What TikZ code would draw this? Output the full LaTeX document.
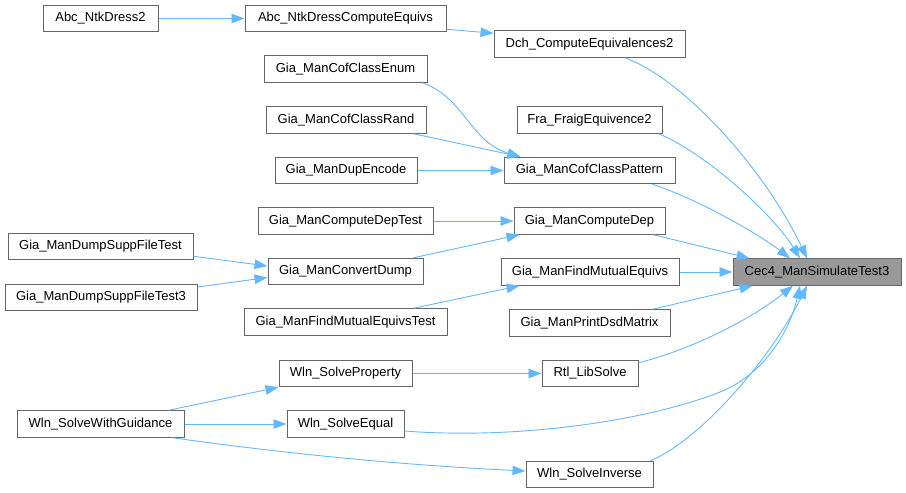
\documentclass[tikz,border=0pt]{standalone}
\usepackage{fontspec}
\setmainfont{Liberation Sans}
\usetikzlibrary{arrows.meta,calc}
\definecolor{edgeblue}{HTML}{63B8FF}
\definecolor{boxborder}{HTML}{666666}
\definecolor{rootfill}{HTML}{999999}
\begin{document}
\begin{tikzpicture}[x=1pt,y=-1pt,
  fn/.style={draw=boxborder,line width=1pt,fill=white,inner sep=0pt,minimum height=26.5pt,font=\fontsize{13}{15}\selectfont},
  root/.style={fn,fill=rootfill},
  call/.style={draw=edgeblue,line width=0.9pt,-{Triangle[length=13pt,width=9.5pt]}}]
\useasboundingbox (0,0) rectangle (906,493);
% nodes
\node[fn,minimum width=115] (dress2) at (100.5,18.5) {Abc\_NtkDress2};
\node[fn,minimum width=201] (dressce) at (345.5,18.5) {Abc\_NtkDressComputeEquivs};
\node[fn,minimum width=191] (dch) at (589.5,44) {Dch\_ComputeEquivalences2};
\node[fn,minimum width=163] (enum) at (345.5,69) {Gia\_ManCofClassEnum};
\node[fn,minimum width=160] (rand) at (346,120) {Gia\_ManCofClassRand};
\node[fn,minimum width=145] (fra) at (589.5,120) {Fra\_FraigEquivence2};
\node[fn,minimum width=142] (dupenc) at (346,170.5) {Gia\_ManDupEncode};
\node[fn,minimum width=171] (pattern) at (589.5,170.5) {Gia\_ManCofClassPattern};
\node[fn,minimum width=175] (deptest) at (345.5,221) {Gia\_ManComputeDepTest};
\node[fn,minimum width=151] (dep) at (589.5,221) {Gia\_ManComputeDep};
\node[fn,minimum width=185] (dumpA) at (100.5,246.5) {Gia\_ManDumpSuppFileTest};
\node[fn,minimum width=155] (convert) at (345.5,271.5) {Gia\_ManConvertDump};
\node[fn,minimum width=178] (mutual) at (590,272) {Gia\_ManFindMutualEquivs};
\node[root,minimum width=168] (cec) at (817,272) {Cec4\_ManSimulateTest3};
\node[fn,minimum width=192] (dumpB) at (101,297.5) {Gia\_ManDumpSuppFileTest3};
\node[fn,minimum width=203] (muttest) at (345.5,322) {Gia\_ManFindMutualEquivsTest};
\node[fn,minimum width=161] (dsd) at (589.5,323) {Gia\_ManPrintDsdMatrix};
\node[fn,minimum width=133] (prop) at (345.5,373.5) {Wln\_SolveProperty};
\node[fn,minimum width=96] (rtl) at (590,373.5) {Rtl\_LibSolve};
\node[fn,minimum width=167] (guid) at (100.5,424) {Wln\_SolveWithGuidance};
\node[fn,minimum width=117] (equal) at (345.5,424) {Wln\_SolveEqual};
\node[fn,minimum width=127] (inverse) at (589.5,474.5) {Wln\_SolveInverse};
% edges
\draw[call] (dress2.east) -- (dressce.west);
\draw[call] ($(dressce.south east)+(0,-3)$) -- ($(dch.north west)+(0,3)$);
\draw[call] ($(dch.south)+(35.5,0)$) .. controls (685,80) and (765,170) .. ($(cec.north)+(-10,0)$);
\draw[call] ($(enum.south east)+(-5,0)$) .. controls (465,98) and (470,142) .. ($(pattern.north west)+(17,0)$);
\draw[call] ($(rand.south east)+(-13,0)$) -- ($(pattern.north west)+(17,0)$);
\draw[call] (dupenc.east) -- (pattern.west);
\draw[call] ($(fra.south east)+(-4,0)$) .. controls (700,150) and (770,210) .. ($(cec.north)+(-17,0)$);
\draw[call] ($(pattern.south east)+(-23,0)$) .. controls (700,200) and (760,235) .. ($(cec.north)+(-27,0)$);
\draw[call] (deptest.east) -- (dep.west);
\draw[call] ($(convert.north east)+(-10,0)$) -- ($(dep.south west)+(6,0)$);
\draw[call] ($(dumpA.south east)+(0,-4)$) -- ($(convert.west)+(0,-5.5)$);
\draw[call] ($(dumpB.east)+(0,-10.5)$) -- ($(convert.west)+(0,6)$);
\draw[call] ($(dep.south east)+(-12,0)$) -- ($(cec.north west)+(17,0)$);
\draw[call] (mutual.east) -- (cec.west);
\draw[call] ($(muttest.north east)+(-34,0)$) -- ($(mutual.south west)+(19,0)$);
\draw[call] ($(dsd.north east)+(-18,0)$) -- ($(cec.south west)+(20,0)$);
\draw[call] (prop.east) -- (rtl.west);
\draw[call] ($(rtl.north east)+(0,3)$) .. controls (690,350) and (750,320) .. ($(cec.south)+(-24,0)$);
\draw[call] ($(guid.north east)+(-16,0)$) -- (prop.south west);
\draw[call] (guid.east) -- (equal.west);
\draw[call] ($(guid.south east)+(-12,0)$) .. controls (260,450) and (380,464) .. ($(inverse.west)+(0,-3.5)$);
\draw[call] ($(equal.east)+(0,7)$) .. controls (520,440) and (650,420) .. (720,392) .. controls (765,374) and (790,330) .. ($(cec.south)+(-17,0)$);
\draw[call] ($(inverse.north east)+(-3,0)$) .. controls (700,440) and (770,360) .. ($(cec.south)+(-10,0)$);
\end{tikzpicture}
\end{document}
